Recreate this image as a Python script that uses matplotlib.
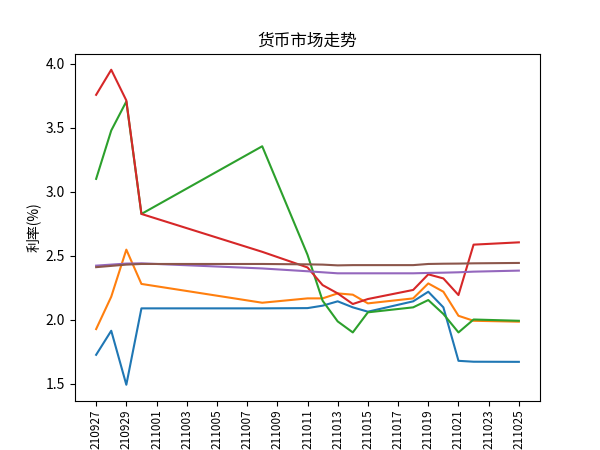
import datetime as dt

import matplotlib
matplotlib.use("Agg")
import matplotlib.pyplot as plt
import matplotlib.dates as mdates

plt.rcParams['font.family'] = ['Noto Sans CJK SC', 'DejaVu Sans']
plt.rcParams['axes.unicode_minus'] = False

# trading days
dates = ['210927', '210928', '210929', '210930', '211008', '211011',
         '211012', '211013', '211014', '211015', '211018', '211019',
         '211020', '211021', '211022', '211025']

# six rate series (%)
s1 = [1.725, 1.913, 1.491, 2.088, 2.088, 2.090, 2.109, 2.143, 2.096, 2.062,
      2.143, 2.218, 2.096, 1.678, 1.671, 1.670]
s2 = [1.926, 2.179, 2.547, 2.279, 2.132, 2.166, 2.166, 2.205, 2.195, 2.127,
      2.166, 2.283, 2.218, 2.030, 1.991, 1.984]
s3 = [3.100, 3.478, 3.705, 2.826, 3.355, 2.507, 2.148, 1.986, 1.900, 2.057,
      2.096, 2.153, 2.044, 1.900, 2.001, 1.991]
s4 = [3.757, 3.953, 3.713, 2.826, 2.530, 2.408, 2.270, 2.205, 2.122, 2.161,
      2.232, 2.354, 2.322, 2.192, 2.586, 2.604]
s5 = [2.422, 2.430, 2.438, 2.440, 2.400, 2.378, 2.370, 2.362, 2.362, 2.362,
      2.362, 2.365, 2.367, 2.370, 2.375, 2.383]
s6 = [2.410, 2.420, 2.430, 2.435, 2.435, 2.432, 2.430, 2.424, 2.426, 2.426,
      2.426, 2.435, 2.437, 2.438, 2.440, 2.443]

x = [dt.datetime.strptime(d, '%y%m%d') for d in dates]

fig, ax = plt.subplots(figsize=(6, 4.5), dpi=100)
for s in (s1, s2, s3, s4, s5, s6):
    ax.plot(x, s)

ticks = []
t = x[0]
while t <= x[-1]:
    ticks.append(t)
    t += dt.timedelta(days=2)
ax.set_xticks(ticks)
ax.xaxis.set_major_formatter(mdates.DateFormatter('%y%m%d'))
ax.tick_params(axis='x', labelsize=8.5, pad=3)
plt.setp(ax.get_xticklabels(), rotation=90)

ax.set_ylabel('利率(%)')
ax.set_title('货币市场走势')

fig.savefig('out.png')
